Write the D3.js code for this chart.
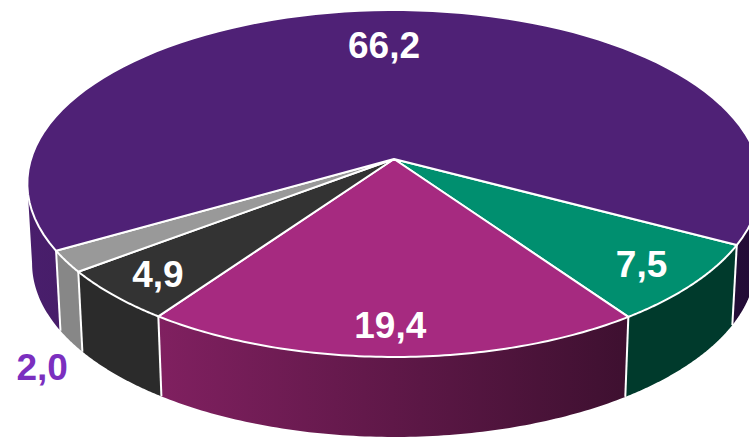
<!DOCTYPE html>
<html><head><meta charset="utf-8">
<script src="https://cdnjs.cloudflare.com/ajax/libs/d3/7.8.5/d3.min.js"></script>
<style>html,body{margin:0;padding:0;background:#fff;overflow:hidden}svg{display:block}</style>
</head><body>
<svg id="c" width="749" height="437"></svg>
<script>
const categories = ["green","magenta","black","gray","purple"];
const values = [7.5, 19.4, 4.9, 2.0, 66.2];
const topColors = ["#008f6f","#a62a80","#333333","#999999","#4f2176"];
const sideFrom = ["#003a2c","#802060","#2b2b2b","#878787","#491e6c"];
const sideTo = ["#003a2c","#3e1030","#2b2b2b","#878787","#230c36"];
const labelColors = ["#fff","#fff","#fff","#7b2fbf","#fff"];
const labelRadius = [0.86,0.87,0.86,1.27,0.72];
const labelNudge = [[-6,-1],[-3,-3],[1,-1],[74,75],[-6,-3]];

const W=749,H=437, cx=394, cy=159, p=0.1412, kY=170, kX=363, depth=80, shrink=0.987;
const svg=d3.select("#c");
const defs=svg.append("defs");
const fmt=d3.formatLocale({decimal:",",thousands:".",grouping:[3],currency:["",""]}).format(".1f");

const proj=(a,r)=>{const u=r*Math.sin(a),v=-r*Math.cos(a),w=1-p*v;return [cx+kX*u/w,cy+kY*v/w];};
const low=q=>[cx+(q[0]-cx)*shrink,q[1]+depth];
const rad=d=>d*Math.PI/180;
const arcs=d3.pie().sort(null).value(d=>d).startAngle(rad(118.2)).endAngle(rad(118.2+360))(values);
const line=d3.line();
const sweep=(a,b)=>d3.range(0,91).map(i=>proj(a+(b-a)*i/90,1));

arcs.forEach((d,i)=>{
  const g=defs.append("linearGradient").attr("id","s"+i).attr("gradientUnits","userSpaceOnUse")
    .attr("x1",i===4?28:159).attr("x2",i===4?749:626).attr("y1",0).attr("y2",0);
  g.append("stop").attr("offset",0).attr("stop-color",sideFrom[i]);
  g.append("stop").attr("offset",1).attr("stop-color",sideTo[i]);
});

const gSide=svg.append("g"), gEdge=svg.append("g"), gTop=svg.append("g"), gText=svg.append("g");
// the wall is seen between the two points where the rim is widest on screen
const tangent=Math.asin(p);
const leftEnd=Math.PI*1.5-tangent, rightStart=Math.PI/2+tangent+2*Math.PI;
arcs.forEach((d,i)=>{
  let ranges=[[d.startAngle,d.endAngle]];
  if(categories[i]==="purple") ranges=[[d.startAngle,leftEnd],[rightStart,d.endAngle]];
  ranges.forEach(([a,b])=>{
    const t=sweep(a,b);
    gSide.append("path").attr("d",line(t.concat(t.map(low).reverse()))+"Z").attr("fill",`url(#s${i})`);
  });
});
arcs.forEach(d=>{
  const q=proj(d.startAngle,1);
  gEdge.append("path").attr("d",line([q,low(q)])).attr("stroke","#fff").attr("stroke-width",2).attr("fill","none");
});
arcs.forEach((d,i)=>{
  const t=sweep(d.startAngle,d.endAngle);
  gTop.append("path").attr("d",line([[cx,cy]].concat(t))+"Z").attr("fill",topColors[i])
    .attr("stroke","#fff").attr("stroke-width",2).attr("stroke-linejoin","round");
});
arcs.forEach((d,i)=>{
  const m=proj((d.startAngle+d.endAngle)/2,labelRadius[i]);
  gText.append("text").attr("x",m[0]+labelNudge[i][0]).attr("y",m[1]+labelNudge[i][1]).attr("dy","0.36em")
    .attr("text-anchor","middle").attr("font-family","'Liberation Sans',Arial,sans-serif").attr("font-weight",700)
    .attr("font-size",37).attr("fill",labelColors[i]).text(fmt(values[i]));
});
</script>
</body></html>
